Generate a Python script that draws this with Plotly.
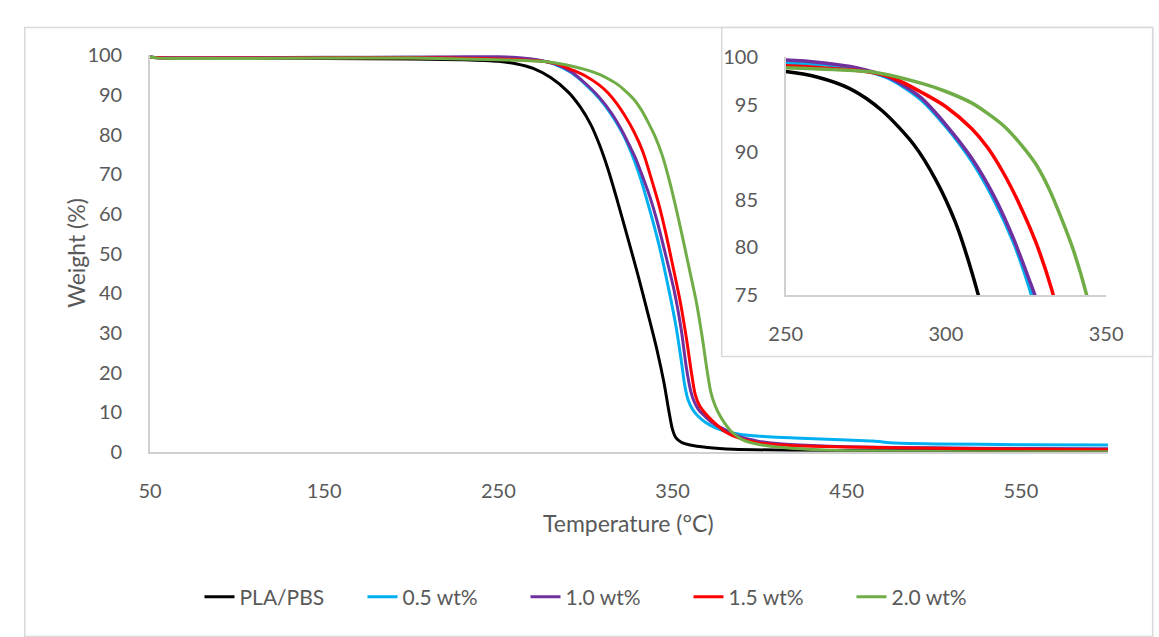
import plotly.graph_objects as go

# Thermogravimetric curves: temperature (°C) vs. remaining weight (%)
series_names = ["PLA/PBS", "0.5 wt%", "1.0 wt%", "1.5 wt%", "2.0 wt%"]
series_colors = ["#000000", "#00B0F0", "#7030A0", "#FF0000", "#70AD47"]

t_pla_pbs = [50, 55, 100, 150, 200, 230, 250, 260, 270, 280, 290, 297, 303, 308, 313, 318, 324, 330,
             336, 341, 345, 348, 350, 352, 355, 360, 370, 385, 420, 500, 600]
w_pla_pbs = [99.6, 99.4, 99.2, 99.2, 99.1, 98.9, 98.5, 97.9, 96.7, 94.4, 90.8, 87.0, 82.6, 77.5, 71.2,
             63.8, 54.4, 44.8, 34.6, 25.8, 17.6, 10.0, 5.6, 3.5, 2.4, 1.7, 1.1, 0.65, 0.4, 0.25, 0.2]

t_05 = [50, 55, 100, 150, 200, 250, 262, 272, 282, 292, 300, 308, 315, 321, 326, 331, 336, 342, 348,
        352, 355, 357, 359, 361.5, 364, 369, 375, 382, 390, 405, 420, 450, 465, 478, 500, 550, 600]
w_05 = [99.6, 99.4, 99.3, 99.4, 99.5, 99.4, 99.2, 98.8, 97.8, 95.6, 92.7, 89.1, 85.0, 80.6, 75.8, 69.8,
        62.4, 52.6, 40.6, 31.6, 23.0, 16.8, 13.0, 10.7, 9.3, 7.4, 6.0, 5.0, 4.3, 3.8, 3.5, 3.0, 2.7,
        2.2, 2.0, 1.8, 1.7]

t_10 = [50, 55, 100, 150, 200, 250, 262, 272, 282, 292, 300, 308, 315, 321, 326, 329, 333, 337, 341,
        345.5, 351, 355, 358, 360.5, 362.5, 365, 367.5, 372, 380, 390, 399, 410, 430, 450, 500, 550, 600]
w_10 = [99.6, 99.4, 99.4, 99.5, 99.6, 99.7, 99.4, 98.9, 97.9, 95.8, 92.9, 89.4, 85.4, 81.0, 76.6, 73.8,
        69.2, 64.3, 58.4, 50.6, 40.5, 30.8, 21.0, 15.2, 12.6, 10.6, 9.4, 7.6, 5.6, 3.6, 2.7, 2.1, 1.6,
        1.3, 1.0, 0.85, 0.75]

t_15 = [50, 55, 100, 150, 200, 250, 265, 275, 283, 293, 300, 308, 313, 318, 323, 328, 333, 338, 342.3,
        346, 350, 354.4, 358, 361, 363, 365.5, 368, 372, 380.4, 390, 399, 410, 430, 450, 500, 550, 600]
w_15 = [99.6, 99.4, 99.3, 99.4, 99.4, 99.1, 98.8, 98.5, 97.9, 96.2, 94.8, 92.5, 90.5, 87.8, 84.5, 80.6,
        75.6, 68.6, 62.1, 55.4, 47.2, 37.9, 28.5, 19.5, 14.5, 11.6, 10.1, 8.2, 5.0, 3.2, 2.3, 1.8, 1.4,
        1.2, 0.9, 0.7, 0.5]

t_20 = [50, 55, 100, 150, 200, 250, 265, 278, 293, 300, 308, 313, 318, 323, 328, 332, 336, 340, 344,
        348, 351.6, 355, 359, 363.6, 367, 370, 372, 374.5, 377, 380, 384, 390, 399, 410, 430, 450, 500,
        550, 600]
w_20 = [99.6, 99.3, 99.2, 99.3, 99.3, 98.9, 98.7, 98.4, 97.2, 96.4, 95.2, 94.1, 92.8, 91.0, 88.8, 86.3,
        83.1, 79.5, 74.9, 68.7, 62.2, 55.6, 47.4, 37.9, 29.0, 20.0, 15.0, 11.6, 9.3, 7.2, 5.0, 3.1, 1.9,
        1.2, 0.6, 0.3, 0.1, 0.0, 0.0]

temps = [t_pla_pbs, t_05, t_10, t_15, t_20]
weights = [w_pla_pbs, w_05, w_10, w_15, w_20]

main_x_ticks = [50, 150, 250, 350, 450, 550]
main_y_ticks = [0, 10, 20, 30, 40, 50, 60, 70, 80, 90, 100]
inset_x_ticks = [250, 300, 350]
inset_y_ticks = [75, 80, 85, 90, 95, 100]

W, H = 1159, 637
FONT = "Lato"
GREY = "#595959"
AXIS_LINE = "#D0D0D0"


def px_x(p):
    return p / W


def px_y(p):
    return (H - p) / H


fig = go.Figure()

for name, color, t, w in zip(series_names, series_colors, temps, weights):
    fig.add_trace(go.Scatter(x=t, y=w, mode="lines", name=name,
                             line=dict(color=color, width=3, shape="spline", smoothing=0.8),
                             xaxis="x", yaxis="y", hoverinfo="skip"))

for name, color, t, w in zip(series_names, series_colors, temps, weights):
    fig.add_trace(go.Scatter(x=t, y=w, mode="lines", name=name, showlegend=False,
                             line=dict(color=color, width=3.5, shape="spline", smoothing=0.8),
                             xaxis="x2", yaxis="y2", hoverinfo="skip"))

axis_common = dict(showgrid=False, zeroline=False, showline=True, linecolor=AXIS_LINE,
                   linewidth=1.5, ticks="", tickfont=dict(family=FONT, size=20, color=GREY))

fig.update_layout(
    width=W, height=H,
    margin=dict(l=0, r=0, t=0, b=0),
    paper_bgcolor="white", plot_bgcolor="white",
    font=dict(family=FONT, color=GREY),
    xaxis=dict(domain=[px_x(137), px_x(1124)], range=[50, 600], tickvals=main_x_ticks,
               ticklabelstandoff=20, anchor="y", **axis_common),
    yaxis=dict(domain=[px_y(456), px_y(44)], range=[0, 100], tickvals=main_y_ticks,
               ticklabelstandoff=22, anchor="x", **axis_common),
    xaxis2=dict(domain=[px_x(792), px_x(1122)], range=[250, 350], tickvals=inset_x_ticks,
                ticklabelstandoff=20, anchor="y2", **axis_common),
    yaxis2=dict(domain=[px_y(293), px_y(46)], range=[75, 100], tickvals=inset_y_ticks,
                ticklabelstandoff=22, anchor="x2", **axis_common),
    legend=dict(orientation="h", x=px_x(188), xanchor="left", y=px_y(607), yanchor="middle",
                font=dict(family=FONT, size=21, color=GREY), entrywidth=118,
                bgcolor="rgba(0,0,0,0)"),
    showlegend=True,
)

# Outer chart frame and inset frame
fig.add_shape(type="rect", xref="paper", yref="paper",
              x0=px_x(8), x1=px_x(1170), y0=px_y(648), y1=px_y(15),
              line=dict(color="#D9D9D9", width=1.5), fillcolor="rgba(0,0,0,0)", layer="below")
fig.add_shape(type="rect", xref="paper", yref="paper",
              x0=px_x(726), x1=px_x(1170), y0=px_y(357), y1=px_y(15),
              line=dict(color="#D9D9D9", width=1.5), fillcolor="white", layer="below")

# Axis titles
fig.add_annotation(text="Weight (%)", xref="paper", yref="paper", x=px_x(60), y=px_y(249),
                   xanchor="center", yanchor="middle",
                   textangle=-90, showarrow=False, font=dict(family=FONT, size=23, color=GREY))
fig.add_annotation(text="Temperature (°C)", xref="paper", yref="paper", x=px_x(630), y=px_y(530),
                   xanchor="center", yanchor="middle",
                   showarrow=False, font=dict(family=FONT, size=23, color=GREY))

fig.write_html("out.html")
